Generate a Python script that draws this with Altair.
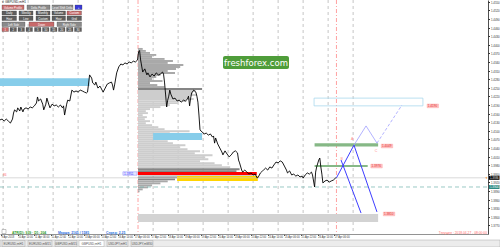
import altair as alt
import pandas as pd

# ---------------- values ----------------
# H1 closes (bar index from 9 Apr 21:00, price)
close_series = [
    (0, 1.4138), (2, 1.4141), (4, 1.4134), (6, 1.4141), (8, 1.4134), (10, 1.4127), (12, 1.4141),
    (13, 1.4162), (14, 1.4173), (16, 1.4166), (17, 1.4180), (19, 1.4169), (20, 1.4183), (22, 1.4166),
    (23, 1.4176), (25, 1.4180), (27, 1.4176), (29, 1.4183), (31, 1.4180), (33, 1.4187), (35, 1.4197),
    (36, 1.4218), (37, 1.4204), (39, 1.4211), (41, 1.4193), (42, 1.4173), (44, 1.4193), (45, 1.4214),
    (47, 1.4190), (48, 1.4180), (50, 1.4193), (52, 1.4187), (54, 1.4190), (56, 1.4183), (58, 1.4190),
    (60, 1.4180), (61, 1.4187), (62, 1.4155), (64, 1.4193), (65, 1.4207), (67, 1.4204), (69, 1.4242),
    (71, 1.4235), (73, 1.4239), (75, 1.4235), (77, 1.4242), (79, 1.4239), (81, 1.4235), (83, 1.4232),
    (84, 1.4235), (85, 1.4263), (86, 1.4295), (88, 1.4284), (89, 1.4267), (91, 1.4260), (92, 1.4270),
    (94, 1.4249), (96, 1.4256), (98, 1.4242), (99, 1.4235), (101, 1.4249), (103, 1.4263), (105, 1.4267),
    (107, 1.4270), (108, 1.4260), (109, 1.4242), (110, 1.4260), (112, 1.4302), (114, 1.4323),
    (116, 1.4333), (118, 1.4330), (120, 1.4337), (122, 1.4333), (124, 1.4340), (126, 1.4337),
    (128, 1.4343), (130, 1.4340), (132, 1.4347), (133, 1.4375), (134, 1.4380), (135, 1.4347),
    (136, 1.4326), (137, 1.4305), (139, 1.4316), (141, 1.4295), (142, 1.4302), (144, 1.4288),
    (146, 1.4298), (148, 1.4291), (150, 1.4302), (152, 1.4295), (154, 1.4298), (156, 1.4305),
    (157, 1.4298), (158, 1.4267), (159, 1.4225), (160, 1.4183), (161, 1.4207), (162, 1.4221),
    (163, 1.4242), (164, 1.4228), (166, 1.4211), (168, 1.4214), (170, 1.4204), (172, 1.4207),
    (174, 1.4200), (176, 1.4207), (178, 1.4204), (180, 1.4211), (181, 1.4221), (182, 1.4187),
    (183, 1.4214), (184, 1.4232), (186, 1.4242), (188, 1.4235), (189, 1.4221), (190, 1.4200),
    (191, 1.4155), (192, 1.4103), (194, 1.4096), (196, 1.4089), (198, 1.4092), (200, 1.4085),
    (202, 1.4089), (204, 1.4078), (205, 1.4082), (206, 1.4057), (207, 1.4075), (209, 1.4054),
    (211, 1.4040), (213, 1.4026), (214, 1.4016), (216, 1.4030), (218, 1.4019), (220, 1.4009),
    (222, 1.4016), (224, 1.4026), (226, 1.4030), (228, 1.4023), (229, 1.3998), (230, 1.3988),
    (232, 1.3963), (233, 1.3956), (235, 1.3963), (237, 1.3956), (239, 1.3949), (241, 1.3953),
    (243, 1.3946), (245, 1.3949), (247, 1.3935), (248, 1.3939), (250, 1.3953), (252, 1.3960),
    (253, 1.3963), (255, 1.3970), (257, 1.3963), (259, 1.3974), (261, 1.3970), (263, 1.3981),
    (265, 1.3991), (267, 1.3988), (269, 1.3995), (271, 1.3991), (273, 1.3977), (275, 1.3963),
    (276, 1.3953), (278, 1.3960), (280, 1.3946), (282, 1.3949), (284, 1.3942), (286, 1.3946),
    (288, 1.3939), (290, 1.3942), (291, 1.3935), (293, 1.3946), (295, 1.3953), (297, 1.3949),
    (299, 1.3956), (300, 1.3946), (302, 1.3904), (303, 1.3956), (304, 1.3974), (306, 1.3998),
    (307, 1.4005), (308, 1.3974), (309, 1.3949), (310, 1.3918), (312, 1.3925), (314, 1.3928),
    (316, 1.3921), (318, 1.3925), (320, 1.3928), (322, 1.3935), (323, 1.3936),
]

price_ticks = [1.3770, 1.3800, 1.3830, 1.3860, 1.3890, 1.3920, 1.3950, 1.3980, 1.4010, 1.4040,
               1.4070, 1.4100, 1.4130, 1.4160, 1.4190, 1.4220, 1.4250, 1.4280, 1.4310, 1.4340,
               1.4370, 1.4400, 1.4430, 1.4460, 1.4490, 1.4520, 1.4550]

time_labels = ["9 Apr 2018", "10 Apr 14:00", "11 Apr 06:00", "11 Apr 22:00", "12 Apr 14:00",
               "13 Apr 06:00", "13 Apr 22:00", "16 Apr 14:00", "17 Apr 06:00", "17 Apr 22:00",
               "18 Apr 14:00", "19 Apr 06:00", "19 Apr 22:00", "20 Apr 14:00", "23 Apr 06:00",
               "23 Apr 22:00", "24 Apr 14:00", "25 Apr 06:00", "25 Apr 22:00", "26 Apr 14:00",
               "27 Apr 06:00"]
time_label_bars = [1, 17, 33, 49, 65, 81, 97, 113, 129, 145, 161, 177, 193, 209, 225, 241,
                   257, 273, 289, 305, 321]
day_bars = [3, 27, 51, 75, 99, 123, 147, 171, 195, 219, 243, 267, 291, 315, 339]
session_bars = [132.5, 323]

last_price = 1.3936
alert_price = 1.3904

# volume profile: bins from the top price, bin size, end bar of each bin, shade
profile_start = 132.5
profile_top = 1.4389
profile_bin = 0.0007
profile_end = [137, 140, 144, 150, 146, 158, 166, 161, 176, 173, 169, 161, 168, 154, 150, 146,
               156, 144, 151, 158, 194, 188, 185, 189, 182, 186, 179, 171, 163, 154, 144, 140,
               142, 137, 141, 139, 144, 140, 146, 152, 158, 182, 163, 154, 158, 152, 161, 166,
               178, 173, 180, 192, 187, 204, 197, 200, 192, 206, 213, 221, 230, 227, 246, 246,
               170, 168, 161, 154, 146, 142, 137, 134]
profile_shade = (["mid"] * 20 + ["dark"] + ["light"] * 39 + ["dark"] * 2 + ["light"] * 2
                 + ["dark"] * 2 + ["mid"] * 6)

# zones: kind, from bar, to bar, top price, bottom price
zones = [
    ("sky", 147, 194, 1.4092, 1.4068),
    ("gold", 170, 247.5, 1.3942, 1.3925),
    ("red", 132.5, 246.5, 1.3956, 1.3946),
    ("grey", 132.5, 363, 1.3810, 1.3782),
    ("green", 302, 363, 1.4057, 1.4045),
    ("green", 302, 353, 1.3981, 1.3974),
]
left_zone = [("sky", 0, 86, 1.4283, 1.4256)]
target_box = [(301.5, 406, 1.4214, 1.4187)]

# forecast paths: style, bar0, price0, bar1, price1
paths = [
    ("solid", 323, 1.3936, 339.8, 1.4050),
    ("solid", 339.8, 1.4050, 361.9, 1.3817),
    ("solid", 327.4, 1.3998, 346.6, 1.3813),
    ("light", 339.8, 1.4050, 351.4, 1.4117),
    ("light", 351.4, 1.4117, 361.9, 1.4057),
    ("dash", 361.9, 1.4057, 385.9, 1.4190),
]

# price tags: text, from bar, to bar, price
tags = [
    ("1.4190", 410, 421, 1.4187),
    ("1.4049", 366, 377, 1.4047),
    ("1.3976", 356, 367, 1.3977),
    ("1.3810", 368, 379, 1.3810),
]
wave_marks = [("A", 338, 1.4071), ("B", 328, 1.4002), ("C", 361, 1.4030)]
poc_tag = [("1.3951", 118, 131.5, 1.3951)]
side_mark = [("86", 4.5, 1.3947)]

# ---------------- chrome (screen layout of the terminal) ----------------
buttons = [
    ("Volume Profile", 2, 24, 5, 9.5, "rose"), ("Delta Profile", 27, 50, 5, 9.5, "mid"),
    ("Level Shift Delta", 52, 73, 5, 9.5, "mid"), ("+", 75, 82, 5, 9.5, "blue"),
    ("Daily", 2, 16.5, 11, 15, "dark"), ("Weekly", 19, 33, 11, 15, "dark"),
    ("Monthly", 36, 50, 11, 15, "dark"), ("Volume", 52, 65.5, 11, 15, "dark"),
    ("Custom", 67, 81.5, 11, 15, "rose"),
    ("Hour", 2, 16.5, 16, 20.5, "dark"), ("Line", 19, 33, 16, 20.5, "dark"),
    ("Custom", 36, 50, 16, 20.5, "dark"), ("Hour", 52, 65.5, 16, 20.5, "dark"),
    ("Grid", 67, 81.5, 16, 20.5, "dark"),
    ("Left Side", 2, 25, 22, 26.5, "mid"), ("Down", 29, 54, 22, 26.5, "rose"),
    ("Right Side", 57, 81.5, 22, 26.5, "mid"),
    ("1", 2, 8.5, 27.5, 31.5, "rose"), ("2", 10, 16.5, 27.5, 31.5, "dark"),
    ("3", 18, 24.5, 27.5, 31.5, "dark"), ("4", 26, 32.5, 27.5, 31.5, "dark"),
    ("5", 34.5, 41, 27.5, 31.5, "dark"), ("10", 42.5, 49, 27.5, 31.5, "dark"),
    ("15", 50.5, 57, 27.5, 31.5, "dark"), ("20", 58.5, 65, 27.5, 31.5, "dark"),
    ("25", 66.5, 73, 27.5, 31.5, "dark"), ("30", 74.5, 81.5, 27.5, 31.5, "dark"),
]
tabs = [("EURUSD,mH1", 2, 25, False), ("EURUSD,mM15", 28, 52, False),
        ("GBPUSD,mM15", 55, 77, False), ("GBPUSD,mH1", 79, 104, True),
        ("USDJPY,mH1", 107, 128, False), ("USDJPY,mM30", 131, 153, False)]
status = [("ATR(D): 939 · D1: 204", 12, 232.5, "#2e9a2e"),
          ("Маржа: 2165 / 1585", 58, 232.5, "#2f6fe0"),
          ("Спред: 2.25", 106, 232.5, "#2f6fe0")]

PALETTE = {"light": "#cdcdcd", "mid": "#a9a9a9", "dark": "#858585",
           "sky": "#87cdea", "gold": "#ffd400", "red": "#ff0000", "grey": "#d3d3d3",
           "green": "#86b886", "rose": "#c86a6a", "btnmid": "#8a8a8a", "btndark": "#5e5e5e",
           "blue": "#3a3ad8", "last": "#000000", "alert": "#2e8b84"}

FONT = "Liberation Sans"
W, H = 488, 234
xs = alt.Scale(domain=[0, 468.48], nice=False, zero=False)
ys = alt.Scale(domain=[1.37400, 1.45563], nice=False, zero=False)

label_js = "[" + ",".join("'" + t + "'" for t in time_labels) + "]"
x_axis = alt.Axis(values=time_label_bars, labelExpr=f"{label_js}[round((datum.value-1)/16)]",
                  labelFontSize=2.6, labelAlign="left", labelPadding=0.6, labelColor="#333",
                  labelFont=FONT, tickSize=1.5, tickColor="#555", domainColor="#777",
                  domainWidth=0.8, grid=False, labelOverlap=False, labelFlush=False,
                  labelBound=False, title=None)
y_axis = alt.Axis(orient="right", values=price_ticks, format=".4f", labelFontSize=2.8,
                  labelColor="#333", labelFont=FONT, labelPadding=1, tickSize=1.5,
                  tickColor="#333", domainColor="#222", domainWidth=0.8, grid=False,
                  labelOverlap=False, labelBound=False, title=None)


def X(f):
    return alt.X(f, type="quantitative", scale=xs, axis=x_axis)


def Y(f):
    return alt.Y(f, type="quantitative", scale=ys, axis=y_axis)


def FILL(f="col"):
    return alt.Color(f, type="nominal", scale=None)


# ---------------- data frames ----------------
df_line = pd.DataFrame(close_series, columns=["bar", "close"])
df_days = pd.DataFrame({"bar": day_bars})
df_sess = pd.DataFrame({"bar": session_bars})
df_prof = pd.DataFrame({"end": profile_end, "shade": profile_shade})
df_prof["start"] = profile_start
df_prof["top"] = [profile_top - profile_bin * i for i in range(len(profile_end))]
df_prof["bot"] = df_prof["top"] - profile_bin * 0.95
df_prof["col"] = df_prof["shade"].map(PALETTE)
df_zones = pd.DataFrame(zones, columns=["kind", "x0", "x1", "top", "bot"])
df_zones["col"] = df_zones["kind"].map(PALETTE)
df_left = pd.DataFrame(left_zone, columns=["kind", "x0", "x1", "top", "bot"])
df_left["col"] = df_left["kind"].map(PALETTE)
df_box = pd.DataFrame(target_box, columns=["x0", "x1", "top", "bot"])
df_paths = pd.DataFrame(paths, columns=["style", "b0", "p0", "b1", "p1"])
df_tags = pd.DataFrame(tags, columns=["text", "x0", "x1", "price"])
df_tags["top"] = df_tags["price"] + 0.00065
df_tags["bot"] = df_tags["price"] - 0.00065
df_waves = pd.DataFrame(wave_marks, columns=["text", "bar", "price"])
df_side = pd.DataFrame(side_mark, columns=["text", "bar", "price"])
df_poc = pd.DataFrame(poc_tag, columns=["text", "x0", "x1", "price"])
df_poc["top"] = df_poc["price"] + 0.0006
df_poc["bot"] = df_poc["price"] - 0.0006
df_last = pd.DataFrame({"price": [last_price], "text": [f"{last_price:.4f}"], "kind": ["last"]})
df_alert = pd.DataFrame({"price": [alert_price], "text": [f"{alert_price:.4f}"], "kind": ["alert"]})
df_axbox = pd.concat([df_last, df_alert], ignore_index=True)
df_axbox["top"] = df_axbox["price"] + 0.0007
df_axbox["bot"] = df_axbox["price"] - 0.0007
df_axbox["col"] = df_axbox["kind"].map(PALETTE)

# ---------------- main (scaled) layers ----------------
grid = alt.Chart(df_days).mark_rule(strokeDash=[3, 3], strokeWidth=0.6).encode(
    x=X("bar"), color=alt.value("#a0a0a0"))
sess = alt.Chart(df_sess).mark_rule(strokeDash=[4, 2, 1, 2], strokeWidth=0.7).encode(
    x=X("bar"), color=alt.value("#ff7a7a"))

left_layer = alt.Chart(df_left).mark_rect().encode(
    x=X("x0"), x2="x1", y=Y("top"), y2="bot", color=FILL())
profile = alt.Chart(df_prof).mark_rect().encode(
    x=X("start"), x2="end", y=Y("top"), y2="bot", color=FILL())
zone_layer = alt.Chart(df_zones).mark_rect().encode(
    x=X("x0"), x2="x1", y=Y("top"), y2="bot", color=FILL())
box = alt.Chart(df_box).mark_rect(fillOpacity=0, stroke="#a9d8ee", strokeWidth=0.8).encode(
    x=X("x0"), x2="x1", y=Y("top"), y2="bot", fill=alt.value("white"))

price_line = alt.Chart(df_line).mark_line(strokeWidth=0.9).encode(
    x=X("bar"), y=Y("close"), color=alt.value("black"))

last_rule = alt.Chart(df_last).mark_rule(strokeWidth=0.7).encode(
    y=Y("price"), x=alt.value(0), x2=alt.value(W), color=alt.value("#c8c8c8"))
alert_rule = alt.Chart(df_alert).mark_rule(strokeDash=[4, 3], strokeWidth=0.7).encode(
    y=Y("price"), x=alt.value(0), x2=alt.value(W), color=alt.value("#6fb0ac"))

path_solid = alt.Chart(df_paths).transform_filter("datum.style == 'solid'").mark_rule(
    strokeWidth=1).encode(x=X("b0"), x2="b1", y=Y("p0"), y2="p1", color=alt.value("#3d3dff"))
path_light = alt.Chart(df_paths).transform_filter("datum.style == 'light'").mark_rule(
    strokeWidth=0.8).encode(x=X("b0"), x2="b1", y=Y("p0"), y2="p1", color=alt.value("#a0a0ff"))
path_dash = alt.Chart(df_paths).transform_filter("datum.style == 'dash'").mark_rule(
    strokeWidth=0.8, strokeDash=[3, 2]).encode(x=X("b0"), x2="b1", y=Y("p0"), y2="p1",
                                               color=alt.value("#a0a0ff"))

tag_box = alt.Chart(df_tags).mark_rect(stroke="#ff9c9c", strokeWidth=0.4).encode(
    x=X("x0"), x2="x1", y=Y("top"), y2="bot", fill=alt.value("#ffc4c4"))
tag_text = alt.Chart(df_tags).mark_text(font=FONT, fontSize=3.1, align="left",
                                        baseline="middle", dx=0.7).encode(
    x=X("x0"), y=Y("price"), text="text:N", color=alt.value("#e03030"))
wave_text = alt.Chart(df_waves).mark_text(font=FONT, fontSize=3.6).encode(
    x=X("bar"), y=Y("price"), text="text:N", color=alt.value("#ff8a8a"))
side_text = alt.Chart(df_side).mark_text(font=FONT, fontSize=3.2).encode(
    x=X("bar"), y=Y("price"), text="text:N", color=alt.value("#ff7070"))
poc_box = alt.Chart(df_poc).mark_rect(stroke="#8c8cff", strokeWidth=0.5).encode(
    x=X("x0"), x2="x1", y=Y("top"), y2="bot", fill=alt.value("#e6e6ff"))
poc_text = alt.Chart(df_poc).mark_text(font=FONT, fontSize=3.1, align="left",
                                       baseline="middle", dx=1.2).encode(
    x=X("x0"), y=Y("price"), text="text:N", color=alt.value("#3a3aff"))

ax_box = alt.Chart(df_axbox).mark_rect().encode(
    x=alt.value(W + 1), x2=alt.value(W + 11.5), y=Y("top"), y2="bot", color=FILL())
ax_text = alt.Chart(df_axbox).mark_text(font=FONT, fontSize=2.8, align="left",
                                        baseline="middle").encode(
    x=alt.value(W + 2), y=Y("price"), text="text:N", color=alt.value("white"))
ax_arrow = alt.Chart(df_last).mark_point(shape="triangle-left", filled=True, size=5).encode(
    x=alt.value(W - 2), y=Y("price"), color=alt.value("#ff8c1a"))

main = alt.layer(grid, sess, left_layer, profile, zone_layer, box, last_rule, alert_rule,
                 price_line, path_solid, path_light, path_dash, tag_box, tag_text, wave_text,
                 side_text, poc_box, poc_text, ax_box, ax_text, ax_arrow)


# ---------------- chrome (pixel) layers ----------------
def PXX(f):
    return alt.X(f, type="quantitative", scale=None, axis=None)


def PXY(f):
    return alt.Y(f, type="quantitative", scale=None, axis=None)


df_btn = pd.DataFrame(buttons, columns=["text", "x0", "x1", "y0", "y1", "style"])
df_btn["xc"] = (df_btn["x0"] + df_btn["x1"]) / 2
df_btn["yc"] = (df_btn["y0"] + df_btn["y1"]) / 2
df_btn["col"] = df_btn["style"].map({"rose": PALETTE["rose"], "mid": PALETTE["btnmid"],
                                     "dark": PALETTE["btndark"], "blue": PALETTE["blue"]})
btn_rect = alt.Chart(df_btn).mark_rect(stroke="#3c3c3c", strokeWidth=0.3).encode(
    x=PXX("x0"), x2="x1", y=PXY("y0"), y2="y1", color=FILL())
btn_text = alt.Chart(df_btn).mark_text(font=FONT, fontSize=2.8, baseline="middle").encode(
    x=PXX("xc"), y=PXY("yc"), text="text:N", color=alt.value("white"))

df_title = pd.DataFrame({"text": ["▾ GBPUSD,mH1"], "x": [2], "y": [2]})
title = alt.Chart(df_title).mark_text(font=FONT, fontSize=3.2, align="left",
                                      baseline="middle").encode(
    x=PXX("x"), y=PXY("y"), text="text:N", color=alt.value("#222"))

df_wm = pd.DataFrame({"text": ["freshforex.com"], "x": [256], "y": [62.5], "x0": [223], "x1": [289],
                      "y0": [56], "y1": [69]})
wm_box = alt.Chart(df_wm).mark_rect(cornerRadius=2).encode(
    x=PXX("x0"), x2="x1", y=PXY("y0"), y2="y1", fill=alt.value("#4f9d3a"))
wm_text = alt.Chart(df_wm).mark_text(font="DejaVu Sans", fontSize=8.5, baseline="middle").encode(
    x=PXX("x"), y=PXY("y"), text="text:N", color=alt.value("white"))

df_status = pd.DataFrame(status, columns=["text", "x", "y", "col"])
status_text = alt.Chart(df_status).mark_text(font=FONT, fontSize=3.4, align="left",
                                             baseline="middle", fontWeight="bold").encode(
    x=PXX("x"), y=PXY("y"), text="text:N", color=FILL())
df_clock = pd.DataFrame({"text": ["Текущее : 2018.04.27 - 08:00:00"], "x": [487], "y": [232.5]})
clock = alt.Chart(df_clock).mark_text(font=FONT, fontSize=3.3, align="right",
                                      baseline="middle").encode(
    x=PXX("x"), y=PXY("y"), text="text:N", color=alt.value("#ff6a6a"))
df_icon = pd.DataFrame({"x0": [2], "x1": [6], "y0": [229.5], "y1": [233.5]})
icon = alt.Chart(df_icon).mark_rect(stroke="#888", strokeWidth=0.5).encode(
    x=PXX("x0"), x2="x1", y=PXY("y0"), y2="y1", fill=alt.value("white"))

df_strip = pd.DataFrame({"x0": [0], "x1": [500], "y0": [240], "y1": [247]})
strip = alt.Chart(df_strip).mark_rect(stroke="#a8a8a8", strokeWidth=0.5).encode(
    x=PXX("x0"), x2="x1", y=PXY("y0"), y2="y1", fill=alt.value("#ececec"))
df_tabs = pd.DataFrame(tabs, columns=["text", "x0", "x1", "sel"])
df_tabs["y0"] = 240.5
df_tabs["y1"] = 246.5
df_tabs["xc"] = (df_tabs["x0"] + df_tabs["x1"]) / 2
df_tabs["yc"] = 243.5
df_tabs["col"] = df_tabs["sel"].map({True: "#ffffff", False: "#e4e4e4"})
tab_rect = alt.Chart(df_tabs).mark_rect(stroke="#a0a0a0", strokeWidth=0.4).encode(
    x=PXX("x0"), x2="x1", y=PXY("y0"), y2="y1", color=FILL())
tab_text = alt.Chart(df_tabs).mark_text(font=FONT, fontSize=3.0, baseline="middle").encode(
    x=PXX("xc"), y=PXY("yc"), text="text:N", color=alt.value("#555"))

chrome = alt.layer(btn_rect, btn_text, title, wm_box, wm_text, status_text, clock, icon,
                   strip, tab_rect, tab_text)

chart = alt.layer(main, chrome).resolve_scale(x="independent", y="independent").properties(
    width=W, height=H,
    padding={"left": 0, "top": 0, "right": 12, "bottom": 13},
    autosize=alt.AutoSizeParams(type="none"),
    background="white",
).configure_view(stroke=None)

chart.save("out.html", embed_options={"renderer": "svg", "actions": False})
